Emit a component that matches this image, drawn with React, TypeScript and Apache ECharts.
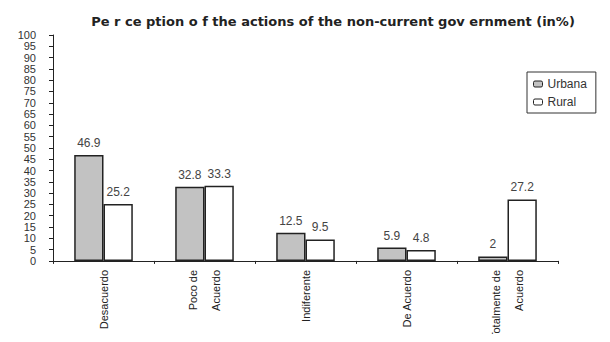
import React, { useEffect, useRef } from "react";
import * as echarts from "echarts";

const categories = ["Desacuerdo", "Poco de\nAcuerdo", "Indiferente", "De Acuerdo", "Totalmente de\nAcuerdo"];
const urbana = [46.9, 32.8, 12.5, 5.9, 2];
const rural = [25.2, 33.3, 9.5, 4.8, 27.2];
const titleText = "Pe r ce ption o f the actions of the non-current gov ernment (in%)";

export default function App() {
  const ref = useRef<HTMLDivElement>(null);
  useEffect(() => {
    const chart = echarts.init(ref.current!, null, { renderer: "svg" });
    const font = "Liberation Sans, Arial, sans-serif";
    chart.setOption({
      animation: false,
      textStyle: { fontFamily: font },
      title: {
        text: titleText,
        left: 328,
        top: 10,
        textAlign: "center",
        textStyle: { fontSize: 13, fontWeight: "bold", color: "#222", fontFamily: "DejaVu Sans" },
      },
      legend: {
        orient: "vertical",
        left: 527,
        top: 72,
        itemWidth: 9,
        itemHeight: 6,
        itemGap: 6,
        borderColor: "#333",
        borderWidth: 1,
        padding: [6, 9, 5, 6],
        itemStyle: { borderWidth: 1 },
        textStyle: { fontSize: 12, color: "#333", fontFamily: font },
        data: ["Urbana", "Rural"],
      },
      grid: { left: 53, right: 52, top: 35, bottom: 78, containLabel: false },
      xAxis: {
        type: "category",
        data: categories,
        axisLine: { lineStyle: { color: "#222", width: 1 } },
        axisTick: { show: true, length: 3, lineStyle: { color: "#222" } },
        axisLabel: {
          rotate: 90,
          fontSize: 11,
          color: "#222",
          margin: 9,
          lineHeight: 23,
          interval: 0,
          fontFamily: font,
        },
      },
      yAxis: {
        type: "value",
        min: 0,
        max: 100,
        interval: 5,
        splitLine: { show: false },
        axisLine: { show: true, lineStyle: { color: "#222", width: 1 } },
        axisTick: { show: true, length: 4, lineStyle: { color: "#222" } },
        axisLabel: { fontSize: 11, color: "#333", margin: 17, lineHeight: 11, fontFamily: font },
      },
      series: [
        {
          name: "Urbana",
          type: "bar",
          data: urbana,
          barGap: "0%",
          barCategoryGap: "42%",
          itemStyle: { color: "#c2c2c2", borderColor: "#222", borderWidth: 1.5 },
          label: { show: true, position: "top", distance: 6, fontSize: 12, color: "#444", fontFamily: font },
        },
        {
          name: "Rural",
          type: "bar",
          data: rural,
          itemStyle: { color: "#ffffff", borderColor: "#222", borderWidth: 1.5 },
          label: { show: true, position: "top", distance: 6, fontSize: 12, color: "#444", fontFamily: font },
        },
      ],
    });
    return () => chart.dispose();
  }, []);
  return <div ref={ref} style={{ width: 610, height: 342, margin: -8, background: "#fff" }} />;
}
